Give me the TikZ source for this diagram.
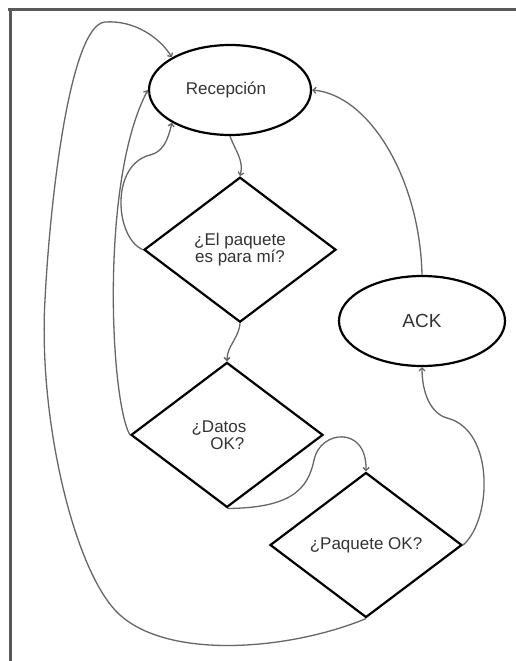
\documentclass[tikz,border=0pt]{standalone}
\usepackage{fontspec}
\setmainfont{Liberation Sans}
\usepackage{tikz}
\usetikzlibrary{shapes.geometric, arrows.meta, positioning}
\usepackage{xcolor}

\begin{document}
\begin{tikzpicture}[
  x=1pt, y=1pt,
  proc/.style={ellipse, draw, line width=2.2pt, minimum width=162pt, minimum height=90pt, inner sep=0pt, text=black!80, font=\fontsize{17}{17}\selectfont},
  choice/.style={diamond, draw, line width=2.2pt, minimum width=192pt, minimum height=145pt, inner sep=0pt, align=center, text=black!80, font=\fontsize{17}{17}\selectfont},
  flow/.style={-{Straight Barb[length=3pt,width=6pt]}, line width=1.3pt, black!60},
  frameline/.style={line width=3pt, black!65}
]
  \useasboundingbox (0,0) rectangle (516,-661);

  % Frame
  \draw[frameline] (8,-10) -- (516,-10);
  \draw[frameline] (10,-10) -- (10,-661);

  % Main column
  \node[proc] (recep) at (230,-90) {Recepción\hspace*{8pt}};
  \node[choice, below=40pt of recep, xshift=10pt] (paramí) {¿El paquete\\es para mí?};
  \node[choice, below=38pt of paramí, xshift=-13pt, align=right] (datos) {¿Datos\hspace*{16pt}\\OK?\hspace*{18pt}};

  % Right side
  \node[choice] (pktok) at (366,-545) {¿Paquete OK?};
  \node[proc, minimum width=166pt, font=\fontsize{19}{19}\selectfont] (ack) at (422,-321) {ACK};

  % Connections
  \draw[flow] (recep.south) to[out=-70, in=75] (paramí.north);
  \draw[flow] (paramí.south) to[out=-95, in=90] (datos.north);
  \draw[flow] (datos.south) .. controls (290,-508) and (308,-490) .. (314,-460)
    .. controls (320,-430) and (367,-425) .. (pktok.north);
  \draw[flow] (pktok.east) .. controls (492,-520) and (495,-430) .. (447,-418)
    .. controls (432,-414) and (422,-395) .. (ack.south);
  \draw[flow] (ack.north) .. controls (420,-180) and (370,-95) .. (recep.east);

  % Back to reception
  \draw[flow] (paramí.west) .. controls (115,-238) and (110,-165) .. (150,-155)
    .. controls (163,-152) and (168,-140) .. (recep.south west);
  \draw[flow] (datos.west) .. controls (110,-400) and (100,-180) .. (recep.west);
  \draw[flow] (pktok.south) .. controls (290,-650) and (170,-660) .. (120,-615)
    .. controls (75,-575) and (38,-420) .. (45,-300)
    .. controls (50,-200) and (70,-25) .. (105,-22)
    .. controls (135,-20) and (160,-38) .. (recep.north west);
\end{tikzpicture}
\end{document}
